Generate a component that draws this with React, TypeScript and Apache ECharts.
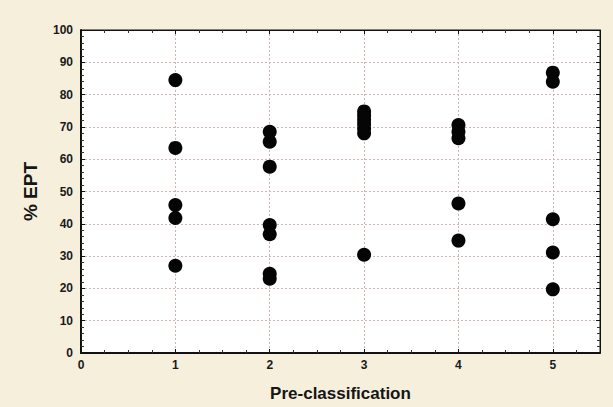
import React, { useEffect, useRef } from "react";
import * as echarts from "echarts";

const classes = [1, 2, 3, 4, 5];
const eptClass1 = [84.5, 63.5, 45.8, 41.8, 27.0];
const eptClass2 = [68.5, 65.4, 57.7, 39.6, 36.8, 24.5, 23.0];
const eptClass3 = [74.8, 73.5, 72.2, 70.9, 69.5, 68.0, 30.4];
const eptClass4 = [70.6, 68.5, 66.5, 46.3, 34.8];
const eptClass5 = [86.8, 84.0, 41.4, 31.1, 19.7];
const xTicks = [0, 1, 2, 3, 4, 5];
const yTicks = [0, 10, 20, 30, 40, 50, 60, 70, 80, 90, 100];

export default function App() {
  const ref = useRef<HTMLDivElement>(null);
  useEffect(() => {
    document.body.style.margin = "0";
    const chart = echarts.init(ref.current!, null, { renderer: "svg" });
    const groups = [eptClass1, eptClass2, eptClass3, eptClass4, eptClass5];
    const data: number[][] = [];
    groups.forEach((g, i) => g.forEach((v) => data.push([classes[i], v])));
    const font = "Liberation Sans, Arial, sans-serif";
    const gridColor = "#cbb7b2";
    chart.setOption({
      animation: false,
      backgroundColor: "#f5efdc",
      grid: {
        left: 81,
        top: 30,
        right: 13,
        bottom: 54,
        show: true,
        backgroundColor: "#ffffff",
        borderColor: "#111",
        borderWidth: 1,
      },
      xAxis: [
        {
          type: "value",
          min: xTicks[0],
          max: 5.5,
          interval: 1,
          name: "Pre-classification",
          nameLocation: "middle",
          nameGap: 32,
          nameTextStyle: { fontFamily: font, fontSize: 17, fontWeight: "bold", color: "#151515" },
          axisLine: { show: true, onZero: false, lineStyle: { color: "#111", width: 2 } },
          axisTick: { show: true, inside: true, length: 4, lineStyle: { color: "#111" } },
          minorTick: { show: true, splitNumber: 4, length: 3, lineStyle: { color: "#333" } },
          axisLabel: {
            showMaxLabel: false,
            fontFamily: font,
            fontSize: 12,
            fontWeight: "bold",
            color: "#1a1a1a",
            margin: 6,
            formatter: (v: number) => (xTicks.includes(v) ? String(v) : ""),
          },
          splitLine: { show: true, lineStyle: { color: gridColor, type: [2, 2], width: 1 } },
        },
        {
          type: "value",
          position: "top",
          min: 0,
          max: 5.5,
          interval: 1,
          axisLine: { show: true, onZero: false, lineStyle: { color: "#111", width: 1 } },
          axisTick: { show: true, inside: true, length: 4, lineStyle: { color: "#111" } },
          minorTick: { show: true, splitNumber: 4, length: 3, lineStyle: { color: "#333" } },
          axisLabel: { show: false },
          splitLine: { show: false },
        },
      ],
      yAxis: [
        {
          type: "value",
          min: yTicks[0],
          max: yTicks[yTicks.length - 1],
          interval: 10,
          name: "% EPT",
          nameLocation: "middle",
          nameGap: 41,
          nameTextStyle: { fontFamily: font, fontSize: 19, fontWeight: "bold", color: "#151515" },
          axisLine: { show: true, onZero: false, lineStyle: { color: "#111", width: 2 } },
          axisTick: { show: true, inside: true, length: 4, lineStyle: { color: "#111" } },
          minorTick: { show: true, splitNumber: 5, length: 3, lineStyle: { color: "#333" } },
          axisLabel: { fontFamily: font, fontSize: 12, fontWeight: "bold", color: "#1a1a1a", margin: 8 },
          splitLine: { show: true, lineStyle: { color: gridColor, type: [2, 2], width: 1 } },
        },
        {
          type: "value",
          position: "right",
          min: 0,
          max: 100,
          interval: 10,
          axisLine: { show: true, onZero: false, lineStyle: { color: "#111", width: 1 } },
          axisTick: { show: true, inside: true, length: 4, lineStyle: { color: "#111" } },
          minorTick: { show: true, splitNumber: 5, length: 3, lineStyle: { color: "#333" } },
          axisLabel: { show: false },
          splitLine: { show: false },
        },
      ],
      series: [
        {
          type: "scatter",
          xAxisIndex: 0,
          yAxisIndex: 0,
          data,
          symbol: "circle",
          symbolSize: 14,
          itemStyle: { color: "#050505", opacity: 1 },
        },
      ],
    });
    return () => chart.dispose();
  }, []);
  return <div ref={ref} style={{ width: 613, height: 407 }} />;
}
